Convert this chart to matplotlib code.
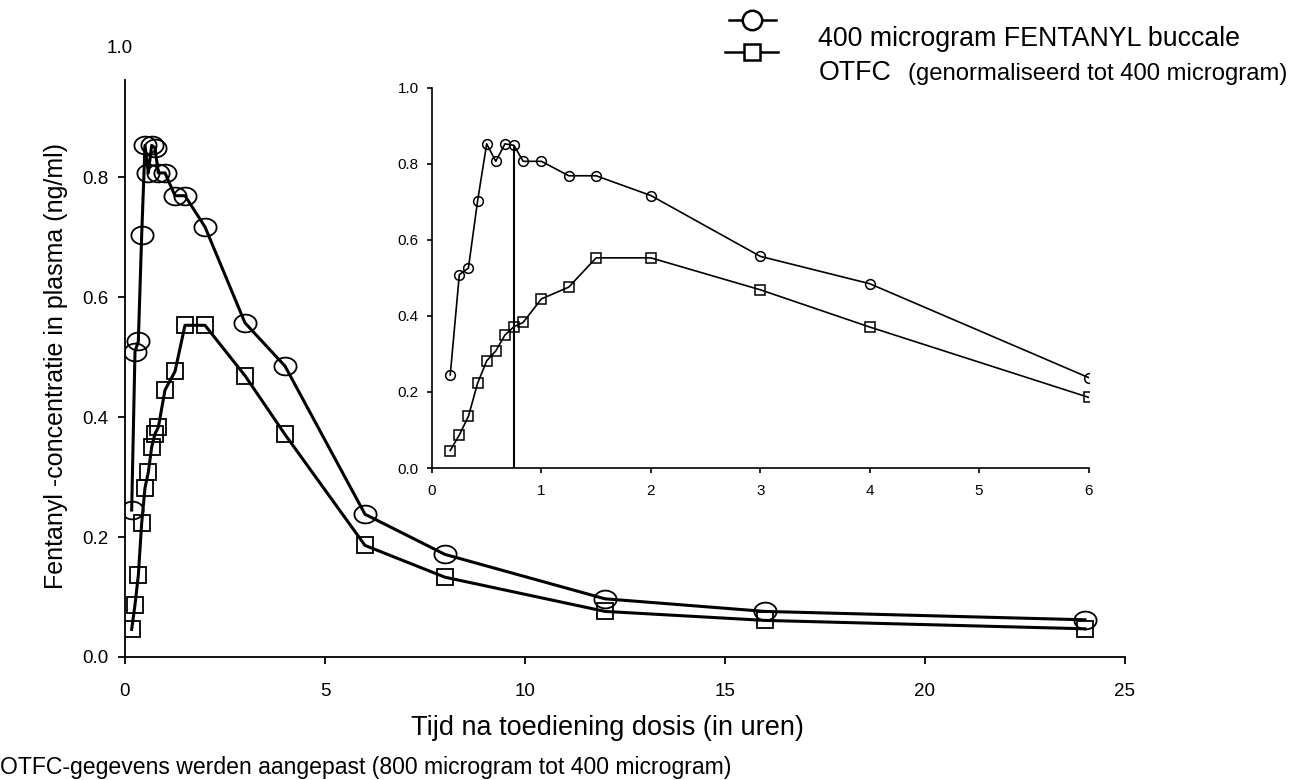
import matplotlib.pyplot as plt
import numpy as np
from matplotlib.lines import Line2D

plt.rcParams['font.family'] = ['Liberation Sans', 'DejaVu Sans']

# time after dose (hours)
tijd = [0.167, 0.25, 0.333, 0.417, 0.5, 0.583, 0.667, 0.75, 0.833, 1.0,
        1.25, 1.5, 2.0, 3.0, 4.0, 6.0, 8.0, 12.0, 16.0, 24.0]
# 400 microgram fentanyl buccal
buccaal = [0.245, 0.509, 0.526, 0.703, 0.853, 0.807, 0.853, 0.849, 0.807, 0.807,
           0.769, 0.769, 0.717, 0.557, 0.485, 0.238, 0.171, 0.097, 0.076, 0.062]
# OTFC normalised to 400 microgram
otfc = [0.046, 0.087, 0.136, 0.223, 0.282, 0.308, 0.350, 0.372, 0.383, 0.445,
        0.476, 0.553, 0.553, 0.469, 0.371, 0.186, 0.133, 0.076, 0.061, 0.047]
tmax = 0.75
tmax_conc = 0.849

main_xticks = [0, 5, 10, 15, 20, 25]
main_yticks = [0.0, 0.2, 0.4, 0.6, 0.8]
inset_xticks = [0, 1, 2, 3, 4, 5, 6]
inset_yticks = [0.0, 0.2, 0.4, 0.6, 0.8, 1.0]

# slightly wide ellipse, like the original open circles
th = np.linspace(0, 2 * np.pi, 60)
ellipse = list(zip(1.25 * np.cos(th), np.sin(th)))

fig = plt.figure(figsize=(12.98, 7.8), dpi=100)

ax = fig.add_axes([0.0963, 0.1577, 0.7704, 0.7398])
ax.plot(tijd, buccaal, color='black', lw=2.2, marker=ellipse, ms=16,
        mfc='none', mec='black', mew=1.3)
ax.plot(tijd, otfc, color='black', lw=2.2, marker='s', ms=12,
        mfc='none', mec='black', mew=1.3)
ax.set_xlim(0, 25)
ax.set_ylim(0, 0.962)
ax.set_xticks(main_xticks)
ax.set_xticklabels([str(t) for t in main_xticks], fontsize=13.5)
ax.set_yticks(main_yticks)
ax.set_yticklabels(['%.1f' % t for t in main_yticks], fontsize=13.5)
ax.tick_params(direction='out', length=5, width=1.3)
ax.tick_params(axis='x', pad=14)
ax.tick_params(axis='y', pad=7)
for s in ['top', 'right']:
    ax.spines[s].set_visible(False)
for s in ['left', 'bottom']:
    ax.spines[s].set_linewidth(1.3)
ax.text(-0.005, 1.055, '1.0', transform=ax.transAxes, ha='center', va='center', fontsize=13.5)
ax.set_ylabel('Fentanyl -concentratie in plasma (ng/ml)', fontsize=18)
ax.yaxis.set_label_coords(-0.057, 0.505)
ax.set_xlabel('Tijd na toediening dosis (in uren)', fontsize=19.5)
ax.xaxis.set_label_coords(0.482, -0.1)

# inset: first 6 hours
ins = fig.add_axes([0.3328, 0.4, 0.5058, 0.4872])
ins.plot(tijd, buccaal, color='black', lw=1.2, marker='o', ms=7,
         mfc='none', mec='black', mew=1.1)
ins.plot(tijd, otfc, color='black', lw=1.2, marker='s', ms=7,
         mfc='none', mec='black', mew=1.1)
ins.vlines(tmax, 0, tmax_conc, color='black', lw=1.5)
ins.set_xlim(0, 6)
ins.set_ylim(0, 1.0)
ins.set_xticks(inset_xticks)
ins.set_yticks(inset_yticks)
ins.set_yticklabels(['%.1f' % t for t in inset_yticks])
ins.tick_params(direction='out', length=3.6, width=1.2, labelsize=11)
ins.tick_params(axis='x', pad=8)
ins.tick_params(axis='y', pad=6)
for s in ['top', 'right']:
    ins.spines[s].set_visible(False)
for s in ['left', 'bottom']:
    ins.spines[s].set_linewidth(1.2)

# legend drawn by hand (second label has mixed font sizes)
fig.add_artist(Line2D([0.5616, 0.5978], [0.974, 0.974], color='black', lw=1.8,
                      transform=fig.transFigure))
fig.add_artist(Line2D([0.5794], [0.974], color='black', marker='o', ms=14,
                      mfc='white', mec='black', mew=1.8, transform=fig.transFigure))
fig.add_artist(Line2D([0.5586, 0.5994], [0.9333, 0.9333], color='black', lw=1.8,
                      transform=fig.transFigure))
fig.add_artist(Line2D([0.5794], [0.9333], color='black', marker='s', ms=12,
                      mfc='white', mec='black', mew=1.8, transform=fig.transFigure))
fig.text(0.6305, 0.941, '400 microgram FENTANYL buccale', fontsize=19.3, va='baseline')
fig.text(0.6305, 0.898, 'OTFC', fontsize=19.3, va='baseline')
fig.text(0.6995, 0.898, '(genormaliseerd tot 400 microgram)', fontsize=17.2, va='baseline')

fig.text(0.0, 0.008, 'OTFC-gegevens werden aangepast (800 microgram tot 400 microgram)',
         fontsize=16.6, va='baseline')

fig.savefig('out.png', dpi=100)
